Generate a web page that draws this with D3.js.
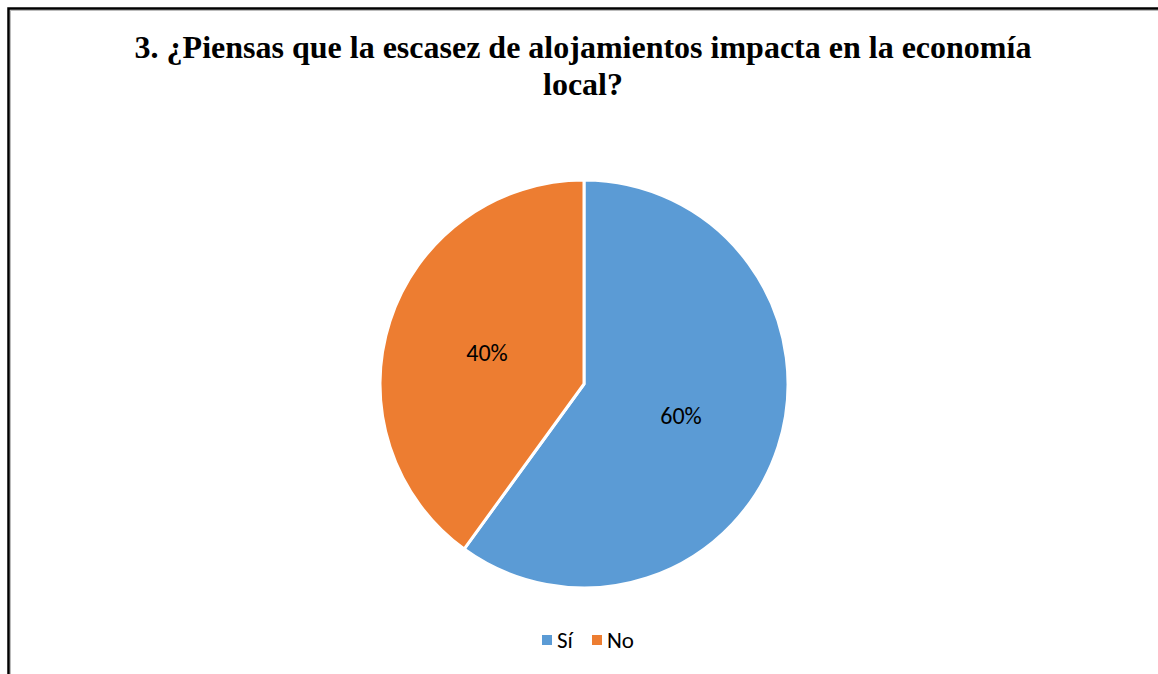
<!DOCTYPE html>
<html>
<head>
<meta charset="utf-8">
<script src="https://cdn.jsdelivr.net/npm/d3@7"></script>
<style>
  body { margin: 0; background: #fff; }
</style>
</head>
<body>
<script>
// chart data
var categories = ["Sí", "No"];
var values = [60, 40];
var colors = ["#5B9BD5", "#ED7D31"];
var titleLines = ["3. ¿Piensas que la escasez de alojamientos impacta en la economía", "local?"];

var width = 1158, height = 674;

var svg = d3.select("body")
  .append("svg")
  .attr("width", width)
  .attr("height", height);

// white background
svg.append("rect")
  .attr("width", width)
  .attr("height", height)
  .attr("fill", "#fff");

// chart frame (runs off right and bottom edges)
svg.append("rect")
  .attr("x", 8.5)
  .attr("y", 8.5)
  .attr("width", 1200)
  .attr("height", 800)
  .attr("fill", "none")
  .attr("stroke", "#000")
  .attr("stroke-width", 2.5);
svg.append("rect")
  .attr("x", 10.5)
  .attr("y", 10.5)
  .attr("width", 1200)
  .attr("height", 800)
  .attr("fill", "none")
  .attr("stroke", "#bbb")
  .attr("stroke-width", 1);

// title
svg.append("g")
  .selectAll("text")
  .data(titleLines)
  .enter()
  .append("text")
  .attr("x", 583)
  .attr("y", function(d, i) { return 58 + i * 37; })
  .attr("text-anchor", "middle")
  .attr("font-family", "'Liberation Serif', 'Times New Roman', serif")
  .attr("font-weight", "bold")
  .attr("font-size", "32px")
  .attr("fill", "#000")
  .text(function(d) { return d; });

// pie
var cx = 584, cy = 384, radius = 204;
var pie = d3.pie().sort(null).value(function(d) { return d; });
var arc = d3.arc().innerRadius(0).outerRadius(radius);
var arcs = pie(values);

var pieG = svg.append("g")
  .attr("transform", "translate(" + cx + "," + cy + ")");

pieG.selectAll("path")
  .data(arcs)
  .enter()
  .append("path")
  .attr("d", arc)
  .attr("fill", function(d, i) { return colors[i]; })
  .attr("stroke", "#fff")
  .attr("stroke-width", 3)
  .attr("stroke-linejoin", "round");

pieG.selectAll("text")
  .data(arcs)
  .enter()
  .append("text")
  .attr("transform", function(d) { return "translate(" + arc.centroid(d) + ")"; })
  .attr("dy", "0.35em")
  .attr("text-anchor", "middle")
  .attr("font-family", "Carlito, 'Open Sans', 'Liberation Sans', sans-serif")
  .attr("font-size", "24px")
  .attr("fill", "#000")
  .text(function(d) { return d.data + "%"; });

// legend
var legendX = [542, 592];
var legend = svg.append("g")
  .selectAll("g")
  .data(categories)
  .enter()
  .append("g")
  .attr("transform", function(d, i) { return "translate(" + legendX[i] + ",640)"; });

legend.append("rect")
  .attr("x", 0)
  .attr("y", -5)
  .attr("width", 10)
  .attr("height", 10)
  .attr("fill", function(d, i) { return colors[i]; });

legend.append("text")
  .attr("x", 15)
  .attr("y", 0)
  .attr("dy", "0.35em")
  .attr("font-family", "Carlito, 'Open Sans', 'Liberation Sans', sans-serif")
  .attr("font-size", "23px")
  .attr("fill", "#000")
  .text(function(d) { return d; });
</script>
</body>
</html>
